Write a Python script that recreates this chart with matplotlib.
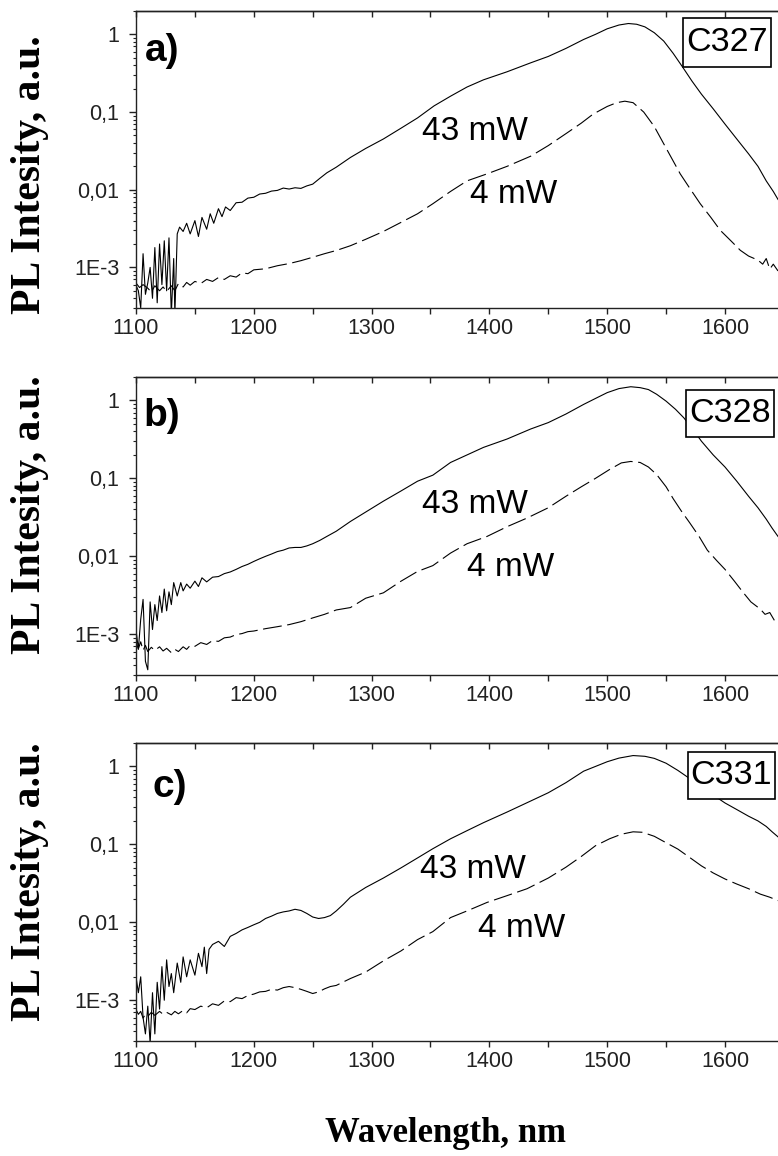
import matplotlib
matplotlib.use('Agg')
import matplotlib.pyplot as plt
from matplotlib.patches import Rectangle
from matplotlib.ticker import FixedLocator, FixedFormatter, MultipleLocator, LogLocator, NullFormatter

# ---------------- data ----------------
samples = ["C327", "C328", "C331"]
panel_tags = ["a)", "b)", "c)"]
power_labels = ["43 mW", "4 mW"]

# panel a, 43 mW
a_hi_wl = [1100, 1102, 1104, 1106, 1108, 1110, 1112, 1114, 1116, 1118, 1120, 1122, 1124, 1126, 1128,
           1130, 1132, 1133, 1135, 1137, 1140, 1143, 1146, 1150, 1153, 1156, 1160, 1163, 1166, 1170,
           1173, 1176, 1180, 1185, 1190, 1195, 1200, 1205, 1210, 1215, 1220, 1225, 1230, 1235, 1240,
           1245, 1250, 1256, 1262, 1270, 1282, 1295, 1310, 1325, 1339, 1353, 1367, 1381, 1395, 1415,
           1435, 1450, 1465, 1480, 1490, 1500, 1510, 1518, 1525, 1532, 1540, 1548, 1556, 1564, 1572,
           1580, 1590, 1600, 1610, 1620, 1628, 1635, 1641, 1645]
a_hi_I = [5.9e-4, 5.0e-4, 3.0e-4, 1.5e-3, 4.5e-4, 6.3e-4, 1.0e-3, 4.0e-4, 1.8e-3, 3.5e-4, 2.0e-3, 6.0e-4,
          2.2e-3, 5.0e-4, 2.4e-3, 2.5e-4, 1.3e-3, 2.5e-4, 2.7e-3, 3.3e-3, 2.9e-3, 3.7e-3, 2.7e-3, 4.0e-3,
          2.5e-3, 4.4e-3, 3.1e-3, 4.9e-3, 3.7e-3, 5.7e-3, 4.5e-3, 6.0e-3, 5.4e-3, 6.8e-3, 6.9e-3, 7.8e-3,
          8.0e-3, 8.8e-3, 9.0e-3, 9.6e-3, 9.8e-3, 1.05e-2, 1.02e-2, 1.06e-2, 1.04e-2, 1.12e-2, 1.18e-2,
          1.40e-2, 1.65e-2, 1.95e-2, 2.6e-2, 3.4e-2, 4.5e-2, 6.2e-2, 8.4e-2, 0.12, 0.16, 0.21, 0.26, 0.33,
          0.43, 0.52, 0.66, 0.86, 1.0, 1.18, 1.32, 1.38, 1.35, 1.25, 1.05, 0.82, 0.57, 0.38, 0.25,
          0.17, 0.11, 0.070, 0.045, 0.029, 0.020, 0.013, 0.0095, 0.0075]

# panel a, 4 mW
a_lo_wl = [1100, 1103, 1106, 1110, 1113, 1116, 1120, 1123, 1126, 1130, 1133, 1136, 1140, 1143, 1146,
           1150, 1155, 1160, 1165, 1170, 1175, 1180, 1185, 1190, 1195, 1200, 1210, 1220, 1230, 1240,
           1250, 1260, 1270, 1282, 1295, 1310, 1325, 1339, 1352, 1367, 1381, 1398, 1415, 1435, 1450,
           1466, 1478, 1488, 1500, 1508, 1515, 1522, 1531, 1540, 1548, 1555, 1562, 1570, 1579, 1588,
           1596, 1605, 1613, 1620, 1628, 1632, 1635, 1638, 1641, 1645]
a_lo_I = [6.3e-4, 5.5e-4, 6.0e-4, 5.4e-4, 4.8e-4, 5.8e-4, 5.0e-4, 5.6e-4, 4.9e-4, 5.8e-4, 5.0e-4, 6.2e-4,
          5.6e-4, 6.4e-4, 5.9e-4, 6.6e-4, 6.2e-4, 7.0e-4, 6.6e-4, 7.4e-4, 7.0e-4, 7.8e-4, 7.5e-4, 8.5e-4,
          8.3e-4, 9.3e-4, 9.6e-4, 1.05e-3, 1.12e-3, 1.22e-3, 1.35e-3, 1.5e-3, 1.65e-3, 1.9e-3, 2.3e-3,
          2.9e-3, 3.8e-3, 4.9e-3, 6.6e-3, 9.5e-3, 0.013, 0.016, 0.020, 0.027, 0.037, 0.054, 0.072, 0.094,
          0.118, 0.132, 0.138, 0.132, 0.10, 0.065, 0.039, 0.025, 0.016, 0.0105, 6.6e-3, 4.4e-3, 3.0e-3,
          2.2e-3, 1.66e-3, 1.4e-3, 1.24e-3, 1.1e-3, 1.3e-3, 0.95e-3, 1.1e-3, 0.9e-3]

# panel b, 43 mW
b_hi_wl = [1100, 1102, 1104, 1106, 1108, 1110, 1112, 1114, 1116, 1118, 1120, 1122, 1124, 1126, 1128,
           1130, 1132, 1135, 1138, 1140, 1143, 1146, 1150, 1153, 1156, 1160, 1165, 1170, 1175, 1180,
           1185, 1190, 1195, 1200, 1205, 1210, 1215, 1220, 1225, 1230, 1235, 1240, 1245, 1250, 1256,
           1262, 1270, 1282, 1295, 1310, 1325, 1339, 1352, 1367, 1381, 1395, 1415, 1435, 1450, 1465,
           1480, 1490, 1500, 1510, 1520, 1528, 1535, 1542, 1550, 1558, 1565, 1572, 1580, 1590, 1600,
           1610, 1620, 1628, 1635, 1640, 1645]
b_hi_I = [1.15e-3, 6.4e-4, 1.55e-3, 2.8e-3, 4.5e-4, 3.5e-4, 2.6e-3, 1.15e-3, 2.4e-3, 1.5e-3, 3.1e-3,
          1.9e-3, 3.8e-3, 2.0e-3, 3.5e-3, 2.4e-3, 4.6e-3, 3.1e-3, 4.6e-3, 3.6e-3, 4.4e-3, 3.9e-3, 4.8e-3,
          4.1e-3, 5.3e-3, 4.7e-3, 5.4e-3, 5.5e-3, 6.0e-3, 6.3e-3, 6.8e-3, 7.4e-3, 7.9e-3, 8.6e-3, 9.3e-3,
          1.0e-2, 1.07e-2, 1.15e-2, 1.2e-2, 1.28e-2, 1.3e-2, 1.3e-2, 1.36e-2, 1.45e-2, 1.6e-2, 1.8e-2,
          2.1e-2, 2.8e-2, 3.7e-2, 5.1e-2, 6.9e-2, 9.2e-2, 0.11, 0.16, 0.20, 0.25, 0.32, 0.43, 0.52, 0.67,
          0.89, 1.06, 1.26, 1.42, 1.50, 1.46, 1.38, 1.2, 0.98, 0.77, 0.60, 0.44, 0.30, 0.20, 0.14,
          0.092, 0.059, 0.042, 0.030, 0.023, 0.018]

# panel b, 4 mW
b_lo_wl = [1100, 1102, 1104, 1106, 1108, 1110, 1113, 1116, 1120, 1123, 1126, 1130, 1133, 1136, 1140,
           1143, 1146, 1150, 1155, 1160, 1165, 1170, 1175, 1180, 1185, 1190, 1195, 1200, 1210, 1220,
           1230, 1240, 1250, 1260, 1270, 1282, 1295, 1310, 1325, 1339, 1352, 1367, 1381, 1398, 1415,
           1432, 1450, 1465, 1478, 1490, 1502, 1512, 1520, 1528, 1535, 1542, 1550, 1556, 1563, 1570,
           1578, 1585, 1593, 1600, 1608, 1615, 1622, 1630, 1634, 1638, 1642, 1645]
b_lo_I = [7.9e-4, 6.5e-4, 8.0e-4, 6.2e-4, 7.2e-4, 6.0e-4, 6.8e-4, 6.2e-4, 6.9e-4, 6.1e-4, 6.6e-4, 5.8e-4,
          6.4e-4, 6.0e-4, 6.9e-4, 6.4e-4, 7.2e-4, 7.0e-4, 7.8e-4, 7.4e-4, 8.3e-4, 8.1e-4, 9.0e-4, 9.2e-4,
          9.9e-4, 1.02e-3, 1.08e-3, 1.1e-3, 1.18e-3, 1.25e-3, 1.33e-3, 1.45e-3, 1.62e-3, 1.8e-3, 2.05e-3,
          2.2e-3, 2.9e-3, 3.4e-3, 4.8e-3, 6.4e-3, 7.6e-3, 0.011, 0.0145, 0.018, 0.024, 0.031, 0.042,
          0.059, 0.078, 0.10, 0.13, 0.158, 0.165, 0.16, 0.14, 0.112, 0.078, 0.055, 0.038, 0.027, 0.018,
          0.012, 8.8e-3, 6.8e-3, 4.8e-3, 3.5e-3, 2.6e-3, 2.1e-3, 1.8e-3, 1.9e-3, 1.5e-3, 1.4e-3]

# panel c, 43 mW
c_hi_wl = [1100, 1102, 1104, 1106, 1108, 1110, 1112, 1114, 1116, 1118, 1120, 1122, 1124, 1126, 1128,
           1130, 1132, 1135, 1138, 1140, 1143, 1146, 1150, 1153, 1156, 1158, 1160, 1162, 1165, 1170,
           1175, 1180, 1185, 1190, 1195, 1200, 1205, 1210, 1215, 1220, 1225, 1230, 1235, 1240, 1245,
           1250, 1255, 1260, 1265, 1270, 1276, 1282, 1295, 1310, 1325, 1339, 1352, 1367, 1381, 1395,
           1415, 1435, 1450, 1465, 1480, 1490, 1500, 1510, 1522, 1532, 1540, 1550, 1560, 1570, 1580,
           1590, 1600, 1610, 1620, 1628, 1635, 1640, 1645]
c_hi_I = [2.0e-3, 1.25e-3, 2.0e-3, 6.0e-4, 3.7e-4, 8.4e-4, 2.8e-4, 1.25e-3, 3.7e-4, 1.7e-3, 7.7e-4,
          2.7e-3, 1.0e-3, 3.3e-3, 1.5e-3, 2.2e-3, 1.25e-3, 3.0e-3, 1.7e-3, 3.6e-3, 2.0e-3, 3.3e-3, 2.1e-3,
          4.0e-3, 2.7e-3, 4.8e-3, 2.2e-3, 4.5e-3, 5.2e-3, 5.7e-3, 4.9e-3, 6.6e-3, 7.2e-3, 8.0e-3, 8.6e-3,
          9.3e-3, 1.0e-2, 1.12e-2, 1.2e-2, 1.3e-2, 1.36e-2, 1.4e-2, 1.47e-2, 1.42e-2, 1.3e-2, 1.17e-2,
          1.12e-2, 1.15e-2, 1.22e-2, 1.4e-2, 1.7e-2, 2.1e-2, 2.8e-2, 3.7e-2, 5.0e-2, 6.7e-2, 8.8e-2,
          0.118, 0.15, 0.19, 0.26, 0.36, 0.46, 0.62, 0.87, 1.0, 1.15, 1.28, 1.38, 1.35, 1.27, 1.10,
          0.89, 0.70, 0.55, 0.43, 0.34, 0.28, 0.23, 0.20, 0.17, 0.145, 0.125]

# panel c, 4 mW
c_lo_wl = [1100, 1102, 1104, 1106, 1108, 1110, 1113, 1116, 1120, 1123, 1126, 1130, 1133, 1136, 1140,
           1143, 1146, 1150, 1155, 1160, 1165, 1170, 1175, 1180, 1185, 1190, 1195, 1200, 1205, 1210,
           1215, 1220, 1225, 1230, 1235, 1240, 1245, 1250, 1255, 1260, 1265, 1270, 1282, 1295, 1310,
           1325, 1339, 1352, 1367, 1381, 1398, 1415, 1432, 1450, 1465, 1478, 1490, 1502, 1512, 1522,
           1530, 1540, 1550, 1560, 1570, 1580, 1590, 1600, 1610, 1620, 1630, 1638, 1645]
c_lo_I = [7.6e-4, 6.6e-4, 7.2e-4, 5.9e-4, 6.6e-4, 6.2e-4, 7.0e-4, 6.4e-4, 7.2e-4, 6.6e-4, 7.0e-4, 6.5e-4,
          7.2e-4, 6.7e-4, 7.4e-4, 6.9e-4, 7.8e-4, 7.6e-4, 8.4e-4, 8.0e-4, 9.0e-4, 8.6e-4, 9.8e-4, 9.6e-4,
          1.08e-3, 1.05e-3, 1.15e-3, 1.2e-3, 1.28e-3, 1.3e-3, 1.38e-3, 1.35e-3, 1.45e-3, 1.5e-3, 1.45e-3,
          1.38e-3, 1.3e-3, 1.22e-3, 1.28e-3, 1.4e-3, 1.5e-3, 1.55e-3, 1.9e-3, 2.3e-3, 3.2e-3, 4.3e-3,
          6.0e-3, 7.6e-3, 0.0115, 0.014, 0.018, 0.022, 0.027, 0.037, 0.051, 0.070, 0.096, 0.118, 0.135,
          0.145, 0.143, 0.127, 0.105, 0.087, 0.068, 0.053, 0.043, 0.036, 0.031, 0.027, 0.023, 0.021, 0.019]

xtick_vals = [1100, 1200, 1300, 1400, 1500, 1600]
xtick_labels = ["1100", "1200", "1300", "1400", "1500", "1600"]
ytick_vals = [1e-3, 1e-2, 1e-1, 1]
ytick_labels = ["1E-3", "0,01", "0,1", "1"]

series = [(a_hi_wl, a_hi_I, a_lo_wl, a_lo_I),
          (b_hi_wl, b_hi_I, b_lo_wl, b_lo_I),
          (c_hi_wl, c_hi_I, c_lo_wl, c_lo_I)]

# ---------------- layout (pixels of the reference) ----------------
W, H = 778, 1156
fig = plt.figure(figsize=(W / 100, H / 100), dpi=100)
LEFT = 136
axes_px = [(11, 308), (377, 675), (743, 1041)]
tag_center = [(162, 51), (162, 416), (170, 787)]
hi_lbl = [(422, 140), (422, 513), (420, 878)]
lo_lbl = [(470, 203), (467, 576), (478, 937)]
box_px = [(683, 18, 771, 67), (686, 390, 774, 437), (688, 752, 775, 799)]
ylabel_center = [175, 515, 882]
INK = '#222222'

sans = ["Liberation Sans", "DejaVu Sans"]
serif = ["Liberation Serif", "DejaVu Serif"]

def fx(px):
    return px / W

def fy(py):
    return 1 - py / H

for i, (hw, hI, lw_, lI) in enumerate(series):
    top, bot = axes_px[i]
    ax = fig.add_axes([fx(LEFT), fy(bot), (W - LEFT) / W, (bot - top) / H])
    ax.set_yscale('log')
    ax.plot(hw, hI, color='black', lw=0.8)
    ax.plot(lw_, lI, color='black', lw=0.8, dashes=(17, 5))
    ax.set_xlim(1100, 1645)
    ax.set_ylim(3e-4, 2)

    ax.spines['right'].set_visible(False)
    for s in ('left', 'bottom', 'top'):
        ax.spines[s].set_linewidth(1.0)
        ax.spines[s].set_color(INK)

    ax.xaxis.set_major_locator(FixedLocator(xtick_vals))
    ax.xaxis.set_major_formatter(FixedFormatter(xtick_labels))
    ax.xaxis.set_minor_locator(MultipleLocator(50))
    ax.yaxis.set_major_locator(FixedLocator(ytick_vals))
    ax.yaxis.set_major_formatter(FixedFormatter(ytick_labels))
    ax.yaxis.set_minor_locator(LogLocator(base=10, subs=range(2, 10), numticks=20))
    ax.yaxis.set_minor_formatter(NullFormatter())

    ax.tick_params(axis='x', which='both', bottom=True, top=False, direction='out',
                   length=4, width=1, color=INK, labelsize=15.5, pad=3.5, labelcolor=INK)
    ax.tick_params(axis='y', which='major', left=True, right=False, direction='out',
                   length=5, width=1, color=INK, labelsize=15.5, pad=7, labelcolor=INK)
    ax.tick_params(axis='y', which='minor', left=True, right=False, direction='out',
                   length=2.5, width=0.8, color=INK)
    for lab in ax.get_xticklabels() + ax.get_yticklabels():
        lab.set_family(sans)

    # top axis: ticks pointing inwards, no labels
    sec = ax.secondary_xaxis('top')
    sec.xaxis.set_major_locator(MultipleLocator(50))
    sec.tick_params(axis='x', which='both', direction='in', length=4, width=1, color=INK,
                    labeltop=False)
    sec.spines['top'].set_linewidth(1.0)
    sec.spines['top'].set_color(INK)

    # panel tag
    cx, cy = tag_center[i]
    fig.text(fx(cx), fy(cy), panel_tags[i], ha='center', va='center', fontsize=28,
             fontweight='bold', family=sans)
    # power labels
    x1, y1 = hi_lbl[i]
    fig.text(fx(x1), fy(y1), power_labels[0], ha='left', va='baseline', fontsize=24, family=sans)
    x2, y2 = lo_lbl[i]
    fig.text(fx(x2), fy(y2), power_labels[1], ha='left', va='baseline', fontsize=24, family=sans)
    # sample box
    x0, y0, x1b, y1b = box_px[i]
    fig.add_artist(Rectangle((fx(x0), fy(y1b)), (x1b - x0) / W, (y1b - y0) / H,
                             transform=fig.transFigure, facecolor='white', edgecolor='black',
                             lw=1.2, zorder=5))
    fig.text(fx((x0 + x1b) / 2), fy((y0 + y1b) / 2), samples[i], ha='center', va='center',
             fontsize=24.5, family=sans, zorder=6)
    # y label
    fig.text(fx(30), fy(ylabel_center[i]), "PL Intesity, a.u.", rotation=90, ha='center',
             va='center', fontsize=30, fontweight='bold', family=serif)

fig.text(fx(445), fy(1133), "Wavelength, nm", ha='center', va='center', fontsize=25,
         fontweight='bold', family=serif)

fig.savefig("out.png", dpi=100)
